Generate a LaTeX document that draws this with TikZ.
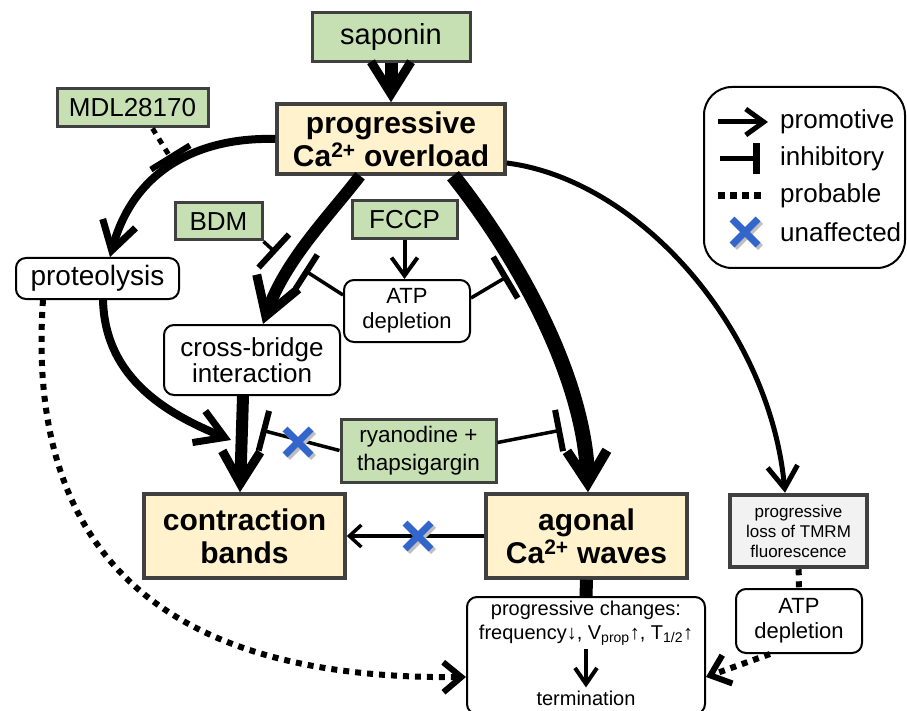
\documentclass[tikz,border=0pt]{standalone}
\usepackage{fontspec}
\setmainfont{Liberation Sans}
\usetikzlibrary{arrows.meta,calc}
\definecolor{gfill}{HTML}{C6E0B4}
\definecolor{yfill}{HTML}{FFF2CC}
\definecolor{bord}{HTML}{404040}
\definecolor{tfill}{HTML}{F2F2F2}
\definecolor{xblue}{HTML}{3366CC}
\begin{document}
\begin{tikzpicture}[x=1pt,y=-1pt,
  gbox/.style={draw=bord, fill=gfill, line width=3pt, inner sep=0pt, align=center},
  ybox/.style={draw=bord, fill=yfill, line width=3.5pt, inner sep=0pt, align=center,
    minimum width=201pt, minimum height=84pt, font=\bfseries\fontsize{30}{33}\selectfont},
  wbox/.style={draw=black, fill=white, line width=2pt, rounded corners=10pt, inner sep=0pt, align=center},
  inh/.style={line width=3.5pt, -{Bar[width=#1,line width=2.5pt 1]}},
  dots/.style={line width=6pt, dash pattern=on 6pt off 6pt},
  legt/.style={anchor=west, inner sep=0pt, font=\fontsize{26}{28}\selectfont},
  xmark/.pic={
    \draw[black!25, line width=7pt] (-10.5,-10.5) -- (15.5,15.5) (-10.5,15.5) -- (15.5,-10.5);
    \draw[xblue, line width=7pt] (-13,-13) -- (13,13) (-13,13) -- (13,-13);
  }
]
\useasboundingbox (0,0) rectangle (907,711);
\fill[white] (0,0) rectangle (907,711);

% ---------- nodes ----------
\node[gbox, font=\fontsize{29}{32}\selectfont, minimum width=158pt, minimum height=49pt] (sap) at (391,37.5) {saponin};
\node[ybox, minimum width=228pt, minimum height=70pt] (ovl) at (391,139) {progressive\\Ca\textsuperscript{2+} overload};
\node[gbox, font=\fontsize{26}{28}\selectfont, minimum width=151pt, minimum height=38pt] (mdl) at (132.5,108) {MDL28170};
\node[gbox, font=\fontsize{26}{28}\selectfont, minimum width=87pt, minimum height=37pt] (bdm) at (218.5,221.5) {BDM};
\node[gbox, font=\fontsize{26}{28}\selectfont, minimum width=105pt, minimum height=38pt] (fccp) at (404.5,220) {FCCP};
\node[wbox, font=\fontsize{22}{25}\selectfont, minimum width=126pt, minimum height=62pt] (atpc) at (407,311) {ATP\\depletion};
\node[wbox, font=\fontsize{28}{30}\selectfont, minimum width=163pt, minimum height=41pt] (prot) at (97.5,278.5) {proteolysis};
\node[wbox, font=\fontsize{26}{26.5}\selectfont, minimum width=176pt, minimum height=70pt] (cb) at (252,360) {cross-bridge\\interaction};
\node[gbox, font=\fontsize{22.5}{28}\selectfont, minimum width=155pt, minimum height=63pt] (rya) at (418.5,450.5) {ryanodine +\\thapsigargin};
\node[ybox] (cbands) at (244.5,536) {contraction\\bands};
\node[ybox] (agon) at (586.5,536) {agonal\\Ca\textsuperscript{2+} waves};
\node[draw=bord, fill=tfill, line width=4.5pt, inner sep=0pt, align=center, font=\fontsize{17}{20}\selectfont,
  minimum width=137pt, minimum height=72pt] (tmrm) at (798.5,531) {progressive\\loss of TMRM\\fluorescence};
\node[wbox, font=\fontsize{22}{25}\selectfont, minimum width=126pt, minimum height=64pt] (atpr) at (799,621) {ATP\\depletion};
\node[wbox, minimum width=238pt, minimum height=117pt] (prog) at (586,655.5) {};
\node[align=center, font=\fontsize{20}{24}\selectfont] (chg) at (586,623) {progressive changes:\\frequency↓, V\textsubscript{prop}↑, T\textsubscript{1/2}↑};
\node[font=\fontsize{20}{22}\selectfont, inner sep=3pt] (term) at (586,698) {termination};

% ---------- free ends ----------
\coordinate (mdlT) at (172,160);
\coordinate (bdmT) at (276,253);
\coordinate (atpLT) at (304,270);
\coordinate (atpRT) at (508,276);
\coordinate (ryLT) at (261,430);
\coordinate (ryRT) at (562,430);
\coordinate (protT) at (231,440);

% ---------- connectors ----------
\draw[line width=13pt, -{Straight Barb[length=32pt,width=40pt,line width=9pt 0]}] (sap) -- (ovl);
\draw[line width=8pt, -{Straight Barb[length=28pt,width=34pt,line width=7pt 0]}] (ovl.west) .. controls (205,137) and (135,165) .. ([xshift=12.5pt]prot.north);
\draw[dots, line width=5pt, -{Bar[width=46pt,line width=1pt 1]}] ([xshift=20pt]mdl.south) -- (mdlT);
% tapered look: a thicker upper part under the main stroke
\draw[line width=12pt, -{Straight Barb[length=36pt,width=44pt,line width=9pt 0]}] ([xshift=-31pt]ovl.south) .. controls (330,215) and (285,260) .. ([xshift=11pt]cb.north);
\draw[line width=15pt, -{Straight Barb[length=32pt,width=40pt,line width=10pt 0]}] ([xshift=62pt]ovl.south) .. controls (520,260) and (585,380) .. ([xshift=1.5pt]agon.north);
\draw[line width=5pt, -{Straight Barb[length=22pt,width=30pt,line width=5pt 0]}] ([yshift=-24pt]ovl.east) .. controls (640,180) and (770,330) .. ([xshift=-13.5pt]tmrm.north);
\draw[inh=45pt] (bdm.south east) -- (bdmT);
\draw[line width=4pt, -{Straight Barb[length=18pt,width=26pt,line width=4pt 0]}] (fccp.south) -- (fccp.south |- atpc.north);
\draw[inh=40pt] ([yshift=16pt]atpc.west) -- (atpLT);
\draw[inh=48pt] ([yshift=13pt]atpc.east) -- (atpRT);
\draw[line width=8pt, -{Straight Barb[length=28pt,width=34pt,line width=7pt 0]}] ([xshift=5.5pt]prot.south) .. controls (105,380) and (170,415) .. (protT);
\draw[line width=12pt, -{Straight Barb[length=32pt,width=38pt,line width=9pt 0]}] ([xshift=-9pt]cb.south) -- ([xshift=-4.5pt]cbands.north);
\draw[inh=41pt] (rya.west) -- (ryLT);
\draw[inh=42pt] ([yshift=8pt]rya.east) -- (ryRT);
\draw[line width=3.5pt, -{Straight Barb[length=12pt,width=22pt,line width=3.5pt 0]}] (agon) -- (cbands);
\draw[line width=13pt] (agon.south) -- (prog.north);
\draw[dots, -{Straight Barb[length=18pt,width=30pt,line width=6pt 0]}] ([xshift=-54.5pt]prot.south) .. controls (25,560) and (170,680) .. ([yshift=-21.5pt]prog.west);
\draw[dots] (tmrm) -- (atpr);
\draw[dots, -{Straight Barb[length=18pt,width=30pt,line width=6pt 0]}] ([xshift=-29pt]atpr.south) -- ([yshift=-21.5pt]prog.east);
\draw[line width=4pt, -{Straight Barb[length=16pt,width=22pt,line width=4pt 0]}] (chg) -- (term);

% ---------- unaffected marks ----------
\pic at (298,442) {xmark};
\pic at (418,536) {xmark};

% ---------- legend ----------
\node[draw, line width=2pt, rounded corners=28pt, minimum width=201pt, minimum height=181pt] (leg) at (804.5,177.5) {};
\node[legt] (lp) at (780,122) {promotive};
\node[legt] (li) at (780,159) {inhibitory};
\node[legt] (lb) at (780,196) {probable};
\node[legt] (lu) at (780,232) {unaffected};
\draw[line width=5pt, -{Straight Barb[length=18pt,width=26pt,line width=5pt 0]}] ([xshift=-62pt]lp.west) -- ([xshift=-12pt]lp.west);
\draw[line width=5pt, -{Bar[width=31pt,line width=2pt 1]}] ([xshift=-60pt]li.west) -- ([xshift=-20pt]li.west);
\draw[line width=7pt, dash pattern=on 7pt off 5pt] ([xshift=-62pt]lb.west) -- ([xshift=-17pt]lb.west);
\pic at ([xshift=-35pt]lu.west) {xmark};
\end{tikzpicture}
\end{document}
